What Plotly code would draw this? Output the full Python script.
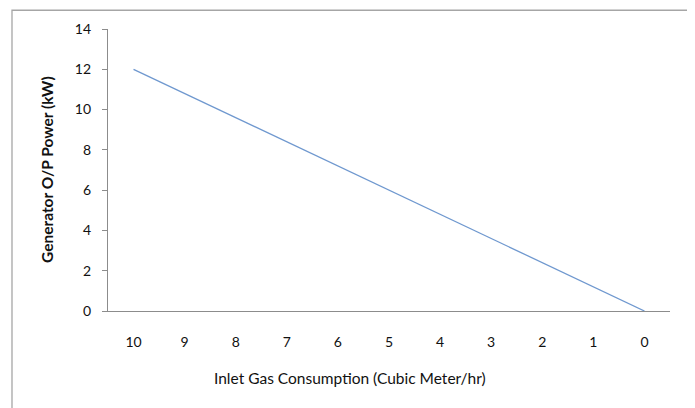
import plotly.graph_objects as go

gas_consumption = ["10", "9", "8", "7", "6", "5", "4", "3", "2", "1", "0"]
power_kw = [12.0, 10.8, 9.6, 8.4, 7.2, 6.0, 4.8, 3.6, 2.4, 1.2, 0.0]
y_ticks = [0, 2, 4, 6, 8, 10, 12, 14]

FONT = "Lato"
AXIS_COLOR = "#8c8c8c"
TEXT = "#111111"

# plot area in reference pixels: x 108..670, y 25..311 (page has 8px body margin)
PL, PR, PT, PB = 108, 670, 25, 311
W, H = PR - PL, PB - PT


def px(x):
    return (x - PL) / W


def py(y):
    return (PB - y) / H


fig = go.Figure()
fig.add_trace(go.Scatter(
    x=gas_consumption, y=power_kw, mode="lines",
    line=dict(color="#6f98cf", width=1.3), showlegend=False,
))

fig.update_layout(
    width=687, height=400,
    margin=dict(l=PL - 8, r=687 + 8 - PR, t=PT - 8, b=400 + 8 - PB),
    paper_bgcolor="white", plot_bgcolor="white",
    font=dict(family=FONT, size=14, color=TEXT),
    xaxis=dict(
        type="category", range=[-0.5, 10.5],
        showline=True, linecolor=AXIS_COLOR, linewidth=1.3,
        ticks="", showgrid=False, zeroline=False,
        tickfont=dict(family=FONT, size=14, color=TEXT),
        ticklabelstandoff=18,
        fixedrange=True,
    ),
    yaxis=dict(
        range=[0, 14], tickvals=y_ticks,
        showline=True, linecolor=AXIS_COLOR, linewidth=1.3,
        ticks="outside", ticklen=5, tickcolor=AXIS_COLOR, tickwidth=1.3,
        showgrid=False, zeroline=False,
        tickfont=dict(family=FONT, size=14, color=TEXT),
        ticklabelstandoff=8,
        fixedrange=True,
    ),
    annotations=[
        dict(text="Inlet Gas Consumption (Cubic Meter/hr)", xref="paper", yref="paper",
             x=px(350), y=py(379), xanchor="center", yanchor="middle", showarrow=False,
             font=dict(family=FONT, size=15.5, color=TEXT)),
        dict(text="<b>Generator O/P Power (kW)</b>", xref="paper", yref="paper",
             x=px(47), y=py(168), xanchor="center", yanchor="middle", showarrow=False,
             textangle=-90, font=dict(family=FONT, size=15.5, color=TEXT)),
    ],
    shapes=[dict(
        type="rect", xref="paper", yref="paper",
        x0=px(12), x1=px(689), y0=py(414), y1=py(6),
        line=dict(color="#a6a6a6", width=1.3), fillcolor="rgba(0,0,0,0)",
        layer="below",
    )],
)

fig.write_html("out.html")
